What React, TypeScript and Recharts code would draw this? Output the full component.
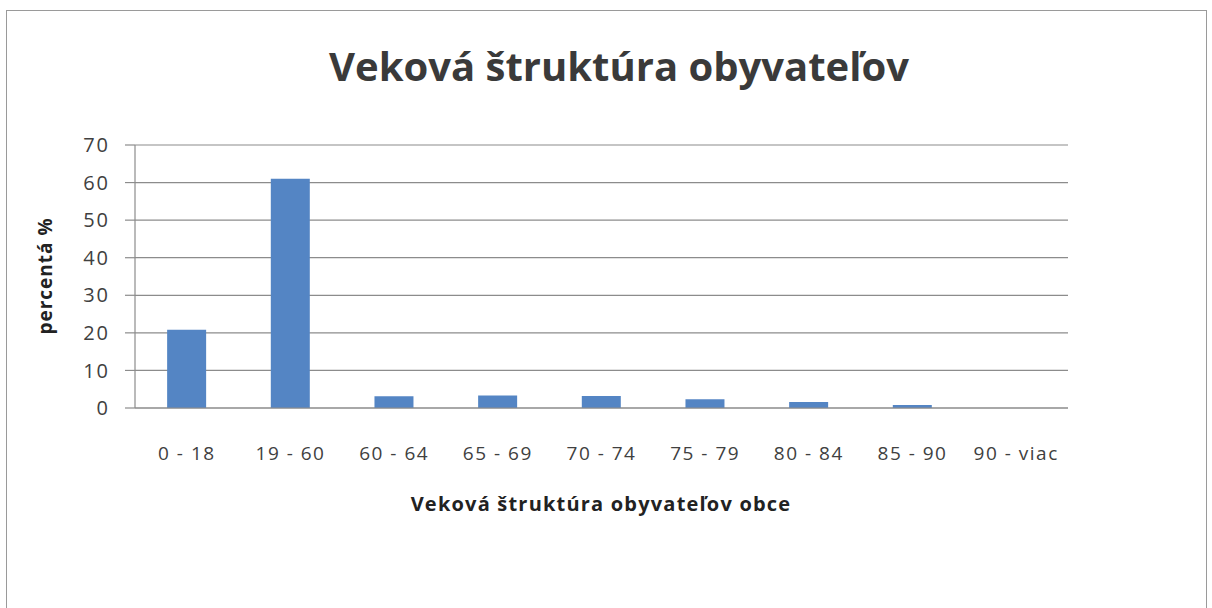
import { BarChart, Bar, XAxis, YAxis, CartesianGrid } from 'recharts';

// Veková štruktúra obyvateľov – percentá podľa vekových skupín
const categories = ['0 - 18', '19 - 60', '60 - 64', '65 - 69', '70 - 74', '75 - 79', '80 - 84', '85 - 90', '90 - viac'];
const values = [20.8, 61, 3.1, 3.3, 3.2, 2.3, 1.6, 0.8, 0];
const yTicks = [0, 10, 20, 30, 40, 50, 60, 70];

const data = categories.map((c, i) => ({ name: c, value: values[i] }));

const font = '"Open Sans", Lato, sans-serif';
const textColor = '#404040';
const gridColor = '#8c8c8c';
const barColor = '#5485c4';

export default function App() {
  return (
    <div
      style={{
        position: 'fixed',
        left: 0,
        top: 0,
        width: 1212,
        height: 608,
        background: '#fff',
        fontFamily: font,
      }}
    >
      <div
        style={{
          position: 'absolute',
          left: 6,
          top: 10,
          width: 1201,
          height: 620,
          border: '1.5px solid #9a9a9a',
          boxSizing: 'border-box',
        }}
      />
      <div
        style={{
          position: 'absolute',
          left: 0,
          width: 1238,
          top: 38,
          textAlign: 'center',
          fontSize: 40,
          fontWeight: 700,
          color: '#3a3a3a',
        }}
      >
        Veková štruktúra obyvateľov
      </div>
      <div
        style={{
          position: 'absolute',
          left: 45,
          top: 276,
          transform: 'translate(-50%, -50%) rotate(-90deg)',
          whiteSpace: 'nowrap',
          fontSize: 19,
          fontWeight: 700,
          letterSpacing: 1,
          color: '#222',
        }}
      >
        percentá %
      </div>
      <div
        style={{
          position: 'absolute',
          left: 0,
          width: 1202,
          top: 490,
          textAlign: 'center',
          fontSize: 20,
          fontWeight: 700,
          letterSpacing: 1.2,
          color: '#222',
        }}
      >
        Veková štruktúra obyvateľov obce
      </div>
      <div style={{ position: 'absolute', left: 0, top: 0 }}>
        <BarChart
          width={1212}
          height={608}
          data={data}
          margin={{ top: 145, right: 144, bottom: 100, left: 30 }}
          barCategoryGap="31%"
        >
          <CartesianGrid vertical={false} stroke={gridColor} strokeWidth={1.2} />
          <XAxis
            dataKey="name"
            height={100}
            tickLine={false}
            axisLine={{ stroke: gridColor, strokeWidth: 1.2 }}
            tickMargin={33}
            tick={{ fontSize: 19, fill: textColor, fontFamily: font, letterSpacing: 1.5 }}
            interval={0}
          />
          <YAxis
            width={105}
            domain={[0, 70]}
            ticks={yTicks}
            interval={0}
            tickSize={10}
            tickMargin={15}
            tickLine={{ stroke: gridColor, strokeWidth: 1.2 }}
            axisLine={{ stroke: gridColor, strokeWidth: 1.2 }}
            tick={{ fontSize: 20, fill: textColor, fontFamily: font, letterSpacing: 2 }}
          />
          <Bar dataKey="value" fill={barColor} isAnimationActive={false} />
        </BarChart>
      </div>
    </div>
  );
}
